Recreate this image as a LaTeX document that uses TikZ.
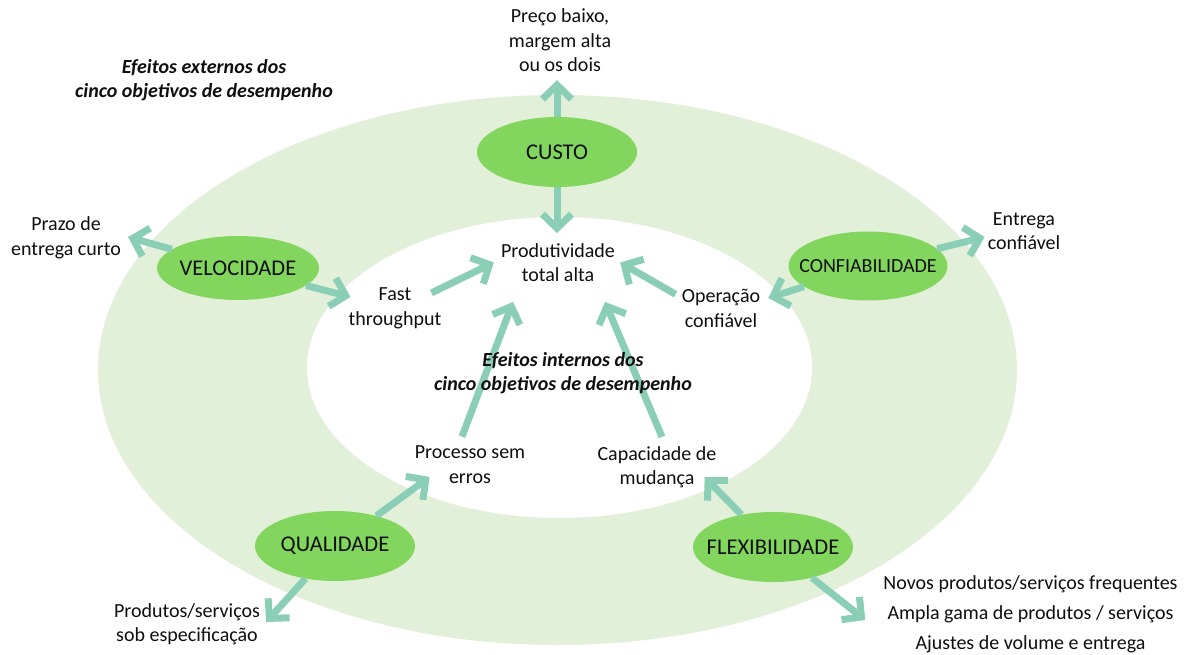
\documentclass[tikz,border=0pt]{standalone}
\usepackage{fontspec}
\setmainfont{Carlito}
\usetikzlibrary{arrows.meta,shapes.geometric}
\definecolor{ringgreen}{RGB}{226,240,217}
\definecolor{goalgreen}{RGB}{130,214,94}
\definecolor{flowteal}{RGB}{138,206,182}
\definecolor{inktext}{RGB}{15,15,15}
% a label that does not widen its ellipse
\newcommand{\goaltext}[1]{\makebox[0pt][c]{#1}}

\begin{document}
\begin{tikzpicture}[x=1pt,y=-1pt,
  every node/.style={font=\fontsize{20}{24.5}\selectfont, text=inktext},
  goal/.style={ellipse, fill=goalgreen, inner sep=0pt, minimum width=160pt, minimum height=70pt,
    font=\fontsize{22.5}{27}\selectfont},
  txt/.style={align=center, inner sep=0pt},
  heading/.style={txt, font=\fontsize{20}{24}\selectfont\bfseries\itshape},
  flow/.style={draw=flowteal, line width=7pt, -{Straight Barb[length=14pt,width=29pt,sharp]}}
]
% canvas
\fill[white] (0,0) rectangle (1191,655);
\useasboundingbox (0,0) rectangle (1191,655);

% ring between outer and inner effects
\fill[ringgreen] (557.5,370) ellipse [x radius=459.5pt, y radius=275pt];
\fill[white] (559.5,367.5) ellipse [x radius=252.5pt, y radius=150.5pt];

% performance objectives
\node[goal] (custo) at (557,152) {\goaltext{CUSTO}};
\node[goal, minimum width=162pt, minimum height=64pt] (velo) at (238,268) {\goaltext{VELOCIDADE}};
\node[goal, minimum width=159pt, minimum height=69pt, font=\fontsize{20}{24}\selectfont]
  (conf) at (868,266) {\goaltext{CONFIABILIDADE}};
\node[goal] (qual) at (335,546) {\goaltext{QUALIDADE}};
\node[goal] (flex) at (773,547) {\goaltext{FLEXIBILIDADE}};

% effects
\node[txt] (preco) at (560,40.5) {Preço baixo,\\margem alta\\ou os dois};
\node[heading] (externo) at (204,80) {Efeitos externos dos\\cinco objetivos de desempenho};
\node[txt] (prazo) at (66,238) {Prazo de\\entrega curto};
\node[txt] (entrega) at (1024,231) {Entrega\\confiável};
\node[txt] (prod) at (558,262.5) {Produtividade\\total alta};
\node[txt] (fast) at (395,308.5) {Fast\\throughput};
\node[txt] (oper) at (721,308.5) {Operação\\confiável};
\node[txt] (processo) at (470,464.5) {Processo sem\\erros};
\node[txt] (capac) at (657,467) {Capacidade de\\mudança};
\node[txt] (produtos) at (187,624) {Produtos/serviços\\sob especificação};
\node[txt, font=\fontsize{20}{30}\selectfont] (novos) at (1030.5,614)
  {Novos produtos/serviços frequentes\\Ampla gama de produtos / serviços\\Ajustes de volume e entrega};

% connectors
\draw[flow] (custo) -- ([shift={(-3,8)}]preco.south);
\draw[flow] (custo) -- ([shift={(-1,-10)}]prod.north);
\draw[flow] (velo) -- ([shift={(7,-1)}]prazo.east);
\draw[flow] (velo) -- ([shift={(2,-11.5)}]fast.west);
\draw[flow] ([shift={(-10,5)}]fast.north east) -- ([shift={(-7,0)}]prod.west);
\draw[flow] (conf) -- ([shift={(-3,6)}]entrega.west);
\draw[flow] (conf) -- ([shift={(8,-10.5)}]oper.east);
\draw[flow] ([shift={(-6,5)}]oper.north west) -- ([shift={(5,0)}]prod.east);
\draw[flow] ([shift={(-8,-9)}]processo.north) -- ([shift={(-45,20)}]prod.south);
\draw[flow] ([shift={(5,-9)}]capac.north) -- ([shift={(47,20)}]prod.south);
\draw[flow] (qual) -- ([shift={(15,12.5)}]processo.west);
\draw[flow] (qual) -- ([shift={(6,-2)}]produtos.east);
\draw[flow] (flex) -- ([shift={(-12,-11)}]capac.south east);
\draw[flow] (flex) -- ([shift={(-18,6)}]novos.west);

% inner heading, set over the connectors
\node[heading] (interno) at (563,373) {Efeitos internos dos\\cinco objetivos de desempenho};
\end{tikzpicture}
\end{document}
